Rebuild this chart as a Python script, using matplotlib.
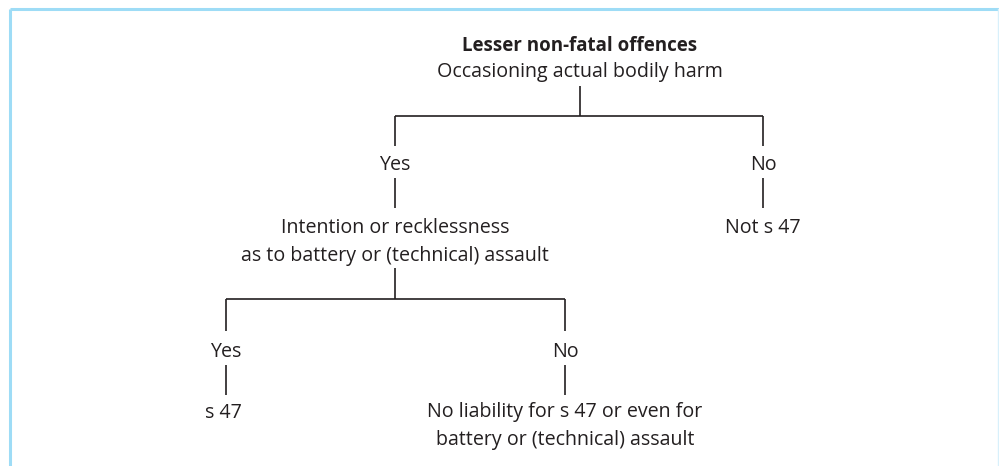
import matplotlib
matplotlib.use("Agg")
import matplotlib.pyplot as plt

# Node texts
title = "Lesser non-fatal offences"
root_text = "Occasioning actual bodily harm"
level1_labels = ["Yes", "No"]
level1_results = ["Intention or recklessness\nas to battery or (technical) assault", "Not s 47"]
level2_labels = ["Yes", "No"]
level2_results = ["s 47", "No liability for s 47 or even for\nbattery or (technical) assault"]

# Layout (pixel coordinates, y downwards)
root_x = 580
l1_x = [395, 763]
l2_x = [226, 565]

FONT = "Open Sans"
FS = 14.1
FS_T = 13.5
COL = "#231f20"
LW = 1.2
DY = 2.0

fig = plt.figure(figsize=(9.99, 4.66), dpi=100)
ax = fig.add_axes([0, 0, 1, 1])
ax.set_xlim(0, 999)
ax.set_ylim(466, 0)
ax.axis("off")

# border
border_col = "#9edcf6"
ax.plot([10, 10], [466, 8.5], color=border_col, lw=2.2, solid_capstyle="butt")
ax.plot([10, 999], [8.5, 8.5], color=border_col, lw=2.2, solid_capstyle="butt")
ax.plot([997.5, 997.5], [8.5, 466], color="#d8f0fb", lw=1.0)

def txt(x, y, s, bold=False, ls=1.55, fs=FS):
    ax.text(x, y + DY, s, ha="center", va="center", fontsize=fs, family=FONT,
            fontweight="bold" if bold else "normal", color=COL, linespacing=ls)

def line(xs, ys):
    ax.plot(xs, ys, color=COL, lw=LW, solid_capstyle="butt")

txt(root_x, 44, title, bold=True, fs=FS_T)
txt(root_x, 70, root_text)
line([root_x, root_x], [86, 116])
line([l1_x[0], l1_x[1]], [116, 116])
for x, lab, res in zip(l1_x, level1_labels, level1_results):
    line([x, x], [116, 146])
    txt(x, 163, lab)
    line([x, x], [178, 208])
    if "\n" in res:
        txt(x, 240, res)
    else:
        txt(x, 226, res)

line([l1_x[0], l1_x[0]], [268, 299])
line([l2_x[0], l2_x[1]], [299, 299])
for x, lab, res in zip(l2_x, level2_labels, level2_results):
    line([x, x], [299, 331])
    txt(x, 350, lab)
    line([x, x], [365, 395])
    if "\n" in res:
        txt(x, 424, res)
    else:
        txt(x - 3, 411, res)

fig.savefig("out.png", dpi=100)
